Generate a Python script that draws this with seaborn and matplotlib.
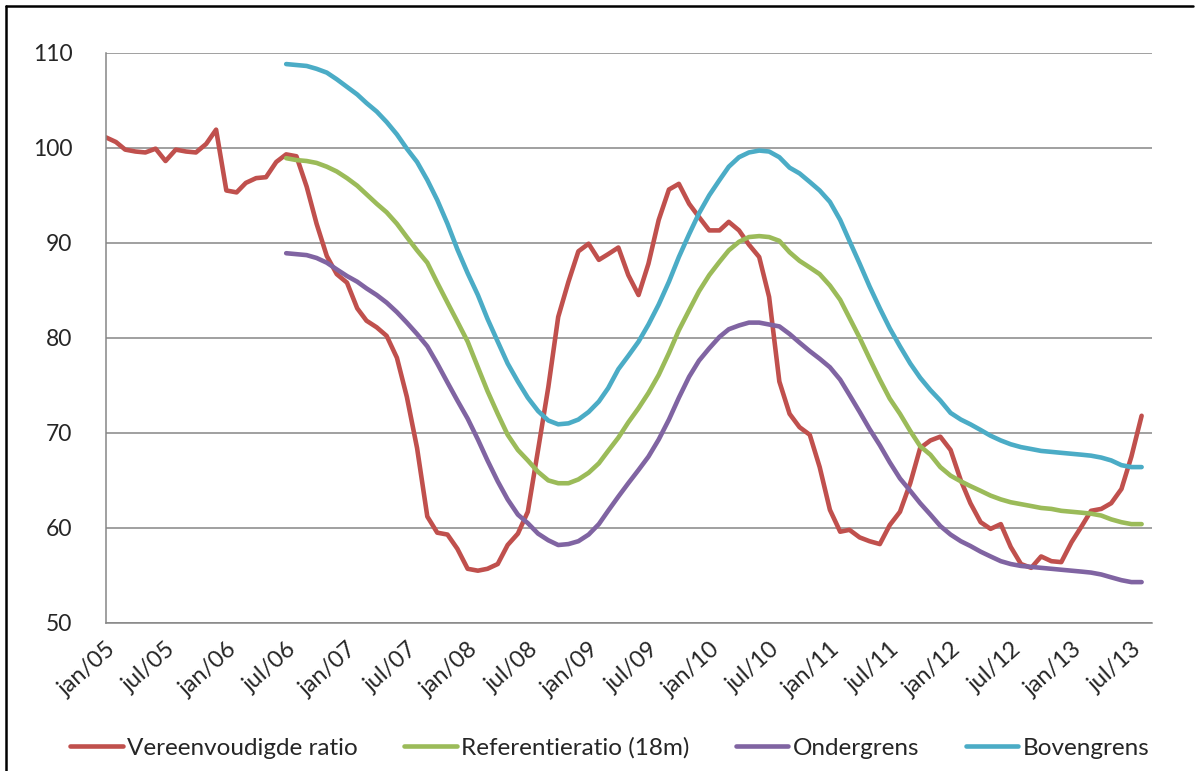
import numpy as np
import pandas as pd
import seaborn as sns
import matplotlib.pyplot as plt
import matplotlib.dates as mdates
from matplotlib.lines import Line2D

sns.set_style("white")
plt.rcParams['font.family'] = ['Lato', 'DejaVu Sans']

# maandelijkse reeksen jan/05 - aug/13
maanden = pd.date_range('2005-01-01', '2013-08-01', freq='MS')

vereenvoudigd = [
    101.1, 100.6, 99.8, 99.6, 99.5, 99.9, 98.6, 99.8, 99.6, 99.5, 100.4, 101.9,
    95.5, 95.3, 96.3, 96.8, 96.9, 98.5, 99.3, 99.1, 95.9, 92.0, 88.6, 86.7,
    85.8, 83.1, 81.8, 81.1, 80.2, 77.9, 73.8, 68.4, 61.2, 59.5, 59.3, 57.8,
    55.7, 55.5, 55.7, 56.2, 58.2, 59.4, 61.7, 68.2, 74.8, 82.2, 85.9, 89.1,
    89.9, 88.2, 88.8, 89.5, 86.6, 84.5, 87.8, 92.4, 95.6, 96.2, 94.1, 92.7,
    91.3, 91.3, 92.2, 91.3, 89.8, 88.5, 84.3, 75.4, 72.0, 70.6, 69.8, 66.4,
    61.9, 59.6, 59.8, 59.0, 58.6, 58.3, 60.3, 61.7, 64.7, 68.4, 69.2, 69.6,
    68.2, 65.0, 62.6, 60.6, 59.9, 60.4, 58.0, 56.2, 55.8, 57.0, 56.5, 56.4,
    58.5, 60.2, 61.8, 62.0, 62.6, 64.1, 67.5, 71.8]

# de andere reeksen beginnen pas in jul/06
referentie = [
    98.9, 98.7, 98.6, 98.4, 98.0, 97.5,
    96.8, 96.0, 95.1, 94.1, 93.2, 92.0, 90.6, 89.2, 87.9, 85.8, 83.7, 81.7,
    79.6, 76.9, 74.4, 72.0, 69.8, 68.2, 67.1, 65.9, 65.0, 64.7, 64.7, 65.1,
    65.8, 66.8, 68.1, 69.5, 71.1, 72.6, 74.2, 76.1, 78.4, 80.8, 82.9, 84.9,
    86.6, 88.0, 89.2, 90.1, 90.6, 90.7, 90.6, 90.2, 89.0, 88.1, 87.4, 86.7,
    85.5, 84.0, 82.1, 80.0, 77.8, 75.6, 73.6, 72.0, 70.2, 68.6, 67.7, 66.4,
    65.5, 64.9, 64.4, 63.9, 63.4, 63.0, 62.7, 62.5, 62.3, 62.1, 62.0, 61.8,
    61.7, 61.6, 61.5, 61.3, 60.9, 60.6, 60.4, 60.4]

ondergrens = [
    88.9, 88.8, 88.7, 88.4, 87.9, 87.2,
    86.5, 85.9, 85.2, 84.5, 83.7, 82.7, 81.6, 80.4, 79.1, 77.3, 75.3, 73.4,
    71.5, 69.3, 67.1, 64.9, 63.0, 61.4, 60.5, 59.4, 58.7, 58.2, 58.3, 58.6,
    59.3, 60.4, 61.8, 63.3, 64.7, 66.1, 67.5, 69.3, 71.4, 73.7, 75.9, 77.6,
    78.9, 80.1, 80.9, 81.3, 81.6, 81.6, 81.4, 81.2, 80.4, 79.5, 78.6, 77.8,
    76.9, 75.6, 74.0, 72.2, 70.4, 68.7, 66.9, 65.2, 63.9, 62.6, 61.4, 60.2,
    59.3, 58.6, 58.1, 57.5, 57.0, 56.5, 56.2, 56.0, 55.9, 55.8, 55.7, 55.6,
    55.5, 55.4, 55.3, 55.1, 54.8, 54.5, 54.3, 54.3]

bovengrens = [
    108.8, 108.7, 108.6, 108.3, 107.9, 107.2,
    106.4, 105.6, 104.7, 103.8, 102.7, 101.4, 99.9, 98.5, 96.6, 94.5, 92.0, 89.3,
    86.8, 84.5, 82.0, 79.6, 77.3, 75.4, 73.7, 72.3, 71.3, 70.9, 71.0, 71.4,
    72.2, 73.3, 74.7, 76.7, 78.1, 79.6, 81.4, 83.5, 85.9, 88.5, 90.9, 93.1,
    95.0, 96.6, 98.0, 99.0, 99.5, 99.7, 99.6, 99.0, 97.9, 97.3, 96.4, 95.5,
    94.3, 92.4, 90.2, 87.8, 85.4, 83.1, 81.0, 79.1, 77.3, 75.8, 74.5, 73.4,
    72.1, 71.4, 70.9, 70.3, 69.7, 69.2, 68.8, 68.5, 68.3, 68.1, 68.0, 67.9,
    67.8, 67.7, 67.6, 67.4, 67.1, 66.6, 66.4, 66.4]

reeksen = ['Vereenvoudigde ratio', 'Referentieratio (18m)', 'Ondergrens', 'Bovengrens']
kleuren = ['#C0504D', '#9BBB59', '#8064A2', '#4BACC6']

tick_labels = ['jan/05', 'jul/05', 'jan/06', 'jul/06', 'jan/07', 'jul/07',
               'jan/08', 'jul/08', 'jan/09', 'jul/09', 'jan/10', 'jul/10',
               'jan/11', 'jul/11', 'jan/12', 'jul/12', 'jan/13', 'jul/13']

leeg = [np.nan] * (len(maanden) - len(referentie))
df = pd.DataFrame({'maand': maanden,
                   reeksen[0]: vereenvoudigd,
                   reeksen[1]: leeg + referentie,
                   reeksen[2]: leeg + ondergrens,
                   reeksen[3]: leeg + bovengrens})
lang = df.melt(id_vars='maand', var_name='reeks', value_name='waarde').dropna()

fig = plt.figure(figsize=(11.97, 7.71), dpi=100)
ax = fig.add_axes([0.0883, 0.192, 0.874, 0.7397])

sns.lineplot(data=lang, x='maand', y='waarde', hue='reeks', hue_order=reeksen,
             palette=kleuren, linewidth=3.3, ax=ax, errorbar=None)

grijs = '#868686'
ax.set_ylim(50, 110)
ax.set_yticks(range(50, 111, 10))
ax.yaxis.grid(True, color=grijs, linewidth=1.1)
ax.xaxis.grid(False)
ax.set_axisbelow(True)
for kant in ['top', 'right']:
    ax.spines[kant].set_visible(False)
for kant in ['left', 'bottom']:
    ax.spines[kant].set_color(grijs)
    ax.spines[kant].set_linewidth(1.1)

ticks = pd.date_range('2005-01-01', '2013-07-01', freq='6MS')
ax.set_xlim(mdates.date2num(pd.Timestamp('2005-01-01')), mdates.date2num(pd.Timestamp('2013-09-01')))
ax.set_xticks(mdates.date2num(ticks))
ax.set_xticklabels(tick_labels, rotation=42, ha='right', rotation_mode='anchor', fontsize=17)
ax.tick_params(axis='x', direction='out', length=5, width=1.1, color=grijs, pad=6)
ax.tick_params(axis='y', length=0, pad=24, labelsize=16.5)
for lab in ax.get_yticklabels():
    lab.set_horizontalalignment('right')
ax.set_xlabel('')
ax.set_ylabel('')

ax.legend(loc='center', bbox_to_anchor=(610 / 1197, 1 - 748 / 771),
          bbox_transform=fig.transFigure, ncol=4, frameon=False, fontsize=17.5,
          handlelength=2.15, handletextpad=0.2, columnspacing=1.9)

# rand om de grafiek
fig.add_artist(Line2D([0.005, 0.005], [0, 0.992], transform=fig.transFigure, color='black', lw=1.8))
fig.add_artist(Line2D([0.005, 0.997], [0.992, 0.992], transform=fig.transFigure, color='black', lw=1.8))

plt.savefig('out.png', dpi=100)
